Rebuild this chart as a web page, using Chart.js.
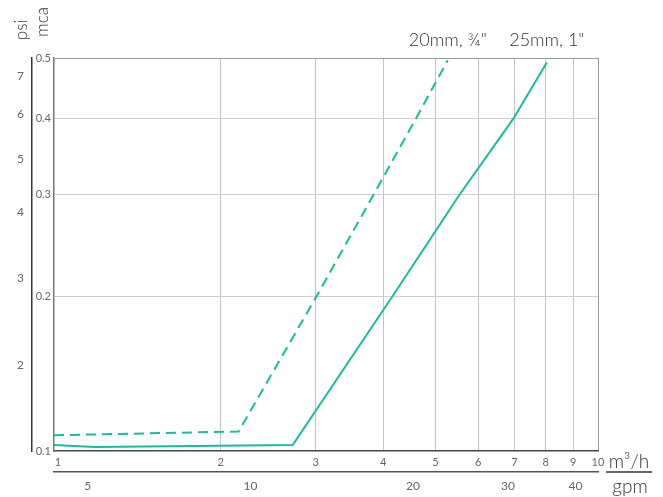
<!DOCTYPE html>
<html><head><meta charset="utf-8">
<script src="https://cdn.jsdelivr.net/npm/chart.js@4.4.1/dist/chart.umd.min.js"></script>
<style>html,body{margin:0;padding:0;background:#fff;} #wrap{width:663px;height:497px;}</style>
</head><body><div id="wrap"><canvas id="c" width="663" height="497"></canvas></div>
<script>
// ---- data ----
const seriesNames = ['20mm, ¾"', '25mm, 1"'];
const flow20 = [0.983, 2.16, 3.01, 3.84, 4.60, 5.27];
const loss20 = [0.108, 0.110, 0.200, 0.300, 0.400, 0.496];
const flow25 = [0.983, 1.17, 2.72, 4.16, 5.54, 6.97, 8.04];
const loss25 = [0.103, 0.102, 0.103, 0.200, 0.300, 0.400, 0.492];
const m3hTicks = [1, 2, 3, 4, 5, 6, 7, 8, 9, 10];
const gpmTicks = [5, 10, 20, 30, 40];
const mcaTicks = [0.1, 0.2, 0.3, 0.4, 0.5];
const psiTicks = [2, 3, 4, 5, 6, 7];

const X_MIN = 0.983, X_MAX = 10, GPM = 4.403;
const LINE = '#16bd9f';
const FONT = "Lato, 'Open Sans', sans-serif";

// log scale with an offset: position ~ log10(value + shift)
class ShiftLogScale extends Chart.LinearScale {
  static id = 'shiftlog';
  static defaults = {};
  configure() {
    super.configure();
    const k = this.options.shift || 0;
    this._k = k;
    this._fStart = Math.log10(this.min + k);
    this._fRange = Math.log10(this.max + k) - this._fStart;
  }
  getPixelForValue(value) {
    if (value === null || value === undefined || isNaN(value)) return NaN;
    return this.getPixelForDecimal((Math.log10(value + this._k) - this._fStart) / this._fRange);
  }
  getValueForPixel(pixel) {
    const d = this.getDecimalForPixel(pixel);
    return Math.pow(10, this._fStart + d * this._fRange) - this._k;
  }
}
Chart.register(ShiftLogScale);

const toPts = (xs, ys) => xs.map((x, i) => ({x, y: ys[i]}));
const setTicks = arr => s => { s.ticks = arr.map(v => ({value: v})); };

const textPlugin = {
  id: 'texts',
  afterDraw(chart) {
    const ctx = chart.ctx;
    const ca = chart.chartArea;
    ctx.save();
    ctx.fillStyle = '#333';
    ctx.textAlign = 'center';
    ctx.textBaseline = 'middle';
    ctx.font = '300 18px ' + FONT;
    chart.data.datasets.forEach((ds, i) => {
      const pts = chart.getDatasetMeta(i).data;
      const p = pts[pts.length - 1];
      ctx.fillText(ds.label, p.x, ca.top - 18);
    });
    // units at bottom right
    ctx.font = '300 19px ' + FONT;
    ctx.fillText('m³/h', 629, 462);
    ctx.fillText('gpm', 630, 487);
    ctx.strokeStyle = '#333';
    ctx.lineWidth = 1.5;
    ctx.beginPath(); ctx.moveTo(606, 472); ctx.lineTo(652, 472); ctx.stroke();
    // rotated axis titles
    ctx.font = '300 17px ' + FONT;
    ctx.save(); ctx.translate(22, 30); ctx.rotate(-Math.PI / 2); ctx.fillText('psi', 0, 0); ctx.restore();
    ctx.save(); ctx.translate(43, 22); ctx.rotate(-Math.PI / 2); ctx.fillText('mca', 0, 0); ctx.restore();
    ctx.restore();
  }
};

new Chart(document.getElementById('c'), {
  type: 'line',
  data: {
    datasets: [
      { label: seriesNames[0], data: toPts(flow20, loss20), borderColor: LINE, borderWidth: 2,
        borderDash: [10, 6], pointRadius: 0, tension: 0, fill: false, xAxisID: 'x', yAxisID: 'y' },
      { label: seriesNames[1], data: toPts(flow25, loss25), borderColor: LINE, borderWidth: 2,
        pointRadius: 0, tension: 0, fill: false, xAxisID: 'x', yAxisID: 'y' }
    ]
  },
  options: {
    responsive: false,
    animation: false,
    events: [],
    layout: { padding: { left: 6, top: 58, right: 65, bottom: 0 } },
    plugins: { legend: { display: false }, tooltip: { enabled: false } },
    font: { family: FONT },
    scales: {
      x: {
        type: 'logarithmic', position: 'bottom', weight: 0, min: X_MIN, max: X_MAX, bounds: 'data',
        afterBuildTicks: setTicks(m3hTicks),
        afterFit: s => { s.height = 21; },
        ticks: { callback: v => String(v), padding: 5, color: '#666', font: { size: 11, family: FONT }, maxRotation: 0, autoSkip: false },
        grid: { drawTicks: false, lineWidth: 1,
          color: c => (c.tick && c.tick.value === 1) ? 'rgba(0,0,0,0)' : (c.tick && c.tick.value === 10 ? '#999' : '#c4c4c4') },
        border: { display: true, color: '#444', width: 1.5 }
      },
      x2: {
        type: 'logarithmic', position: 'bottom', weight: 1, min: X_MIN * GPM, max: X_MAX * GPM, bounds: 'data',
        afterBuildTicks: setTicks(gpmTicks),
        afterFit: s => { s.height = 25; },
        ticks: { callback: v => String(v), padding: 7, color: '#666', font: { size: 12, family: FONT }, maxRotation: 0, autoSkip: false },
        grid: { display: false, drawTicks: false },
        border: { display: true, color: '#555', width: 1.5 }
      },
      y: {
        type: 'shiftlog', shift: 0.05, position: 'left', weight: 0, min: 0.1, max: 0.5, bounds: 'data',
        afterBuildTicks: setTicks(mcaTicks),
        afterFit: s => { s.width = 22; },
        ticks: { callback: v => Number(v).toFixed(1), padding: 3, color: '#666', font: { size: 11, family: FONT }, autoSkip: false },
        grid: { drawTicks: false, lineWidth: 1,
          color: c => (c.tick && c.tick.value === 0.1) ? 'rgba(0,0,0,0)' : (c.tick && c.tick.value === 0.5 ? '#999' : '#cfcfcf') },
        border: { display: true, color: '#777', width: 1.5 }
      },
      y2: {
        type: 'shiftlog', shift: 0.725, position: 'left', weight: 1, min: 1.271, max: 7.513, bounds: 'data',
        afterBuildTicks: setTicks(psiTicks),
        afterFit: s => { s.width = 26; },
        ticks: { callback: v => String(v), padding: 8, color: '#666', font: { size: 12, family: FONT }, autoSkip: false },
        grid: { display: false, drawTicks: false },
        border: { display: true, color: '#333', width: 1.5 }
      }
    }
  },
  plugins: [textPlugin]
});
</script>
</body></html>
